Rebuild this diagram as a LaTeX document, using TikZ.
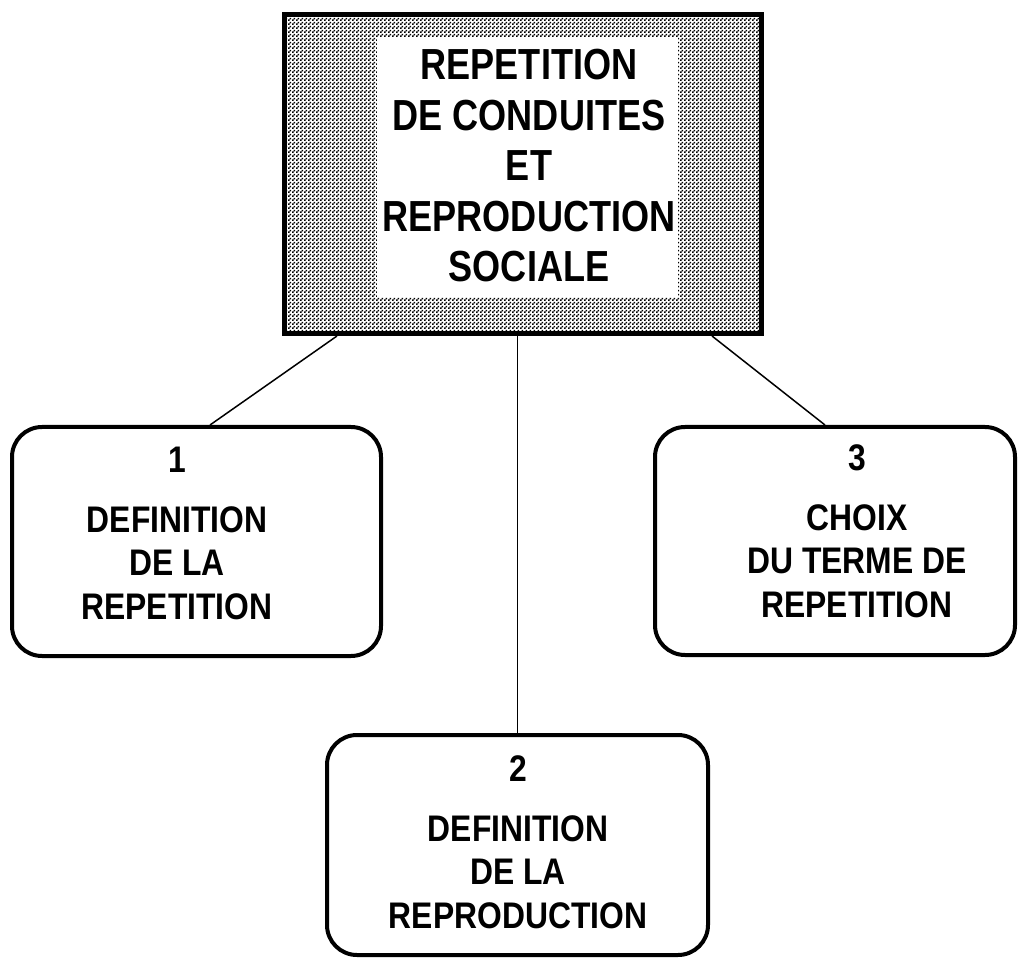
\documentclass[tikz,border=0pt]{standalone}
\usepackage{fontspec}
\newfontfamily\cfont{Liberation Sans}[FakeStretch=0.86]
\newfontfamily\tfont{Liberation Sans}[FakeStretch=0.83]
\usetikzlibrary{patterns}
\pgfdeclarepatternformonly{stipple}{\pgfqpoint{0pt}{0pt}}{\pgfqpoint{4pt}{4pt}}{\pgfqpoint{4pt}{4pt}}{%
  \pgfpathrectangle{\pgfqpoint{0pt}{0pt}}{\pgfqpoint{1.9pt}{1.9pt}}%
  \pgfpathrectangle{\pgfqpoint{2pt}{2pt}}{\pgfqpoint{1.9pt}{1.9pt}}%
  \pgfusepath{fill}}
\tikzset{
  topbox/.style={draw=black, line width=5pt, pattern=stipple, pattern color=black, inner sep=0pt},
  whitepane/.style={fill=white, draw=none, inner sep=0pt},
  subbox/.style={draw=black, line width=4pt, rounded corners=30pt, fill=white, inner sep=0pt},
  toptext/.style={font=\tfont\bfseries\fontsize{43.5}{50.5}\selectfont, align=center, inner sep=0pt},
  boxtext/.style={font=\cfont\bfseries\fontsize{37}{43.5}\selectfont, align=center, inner sep=0pt},
  link/.style={draw=black, line width=1.5pt}
}
\begin{document}
\begin{tikzpicture}[x=1pt,y=-1pt]
\useasboundingbox (0,0) rectangle (1023,965);
% top box
\node[topbox, minimum width=477pt, minimum height=319pt] (top) at (523,174) {};
\node[whitepane, minimum width=301pt, minimum height=260pt] (pane) at (527.5,167) {};
\node[toptext] (ttop) at (529,166) {REPETITION\\DE CONDUITES\\ET\\REPRODUCTION\\SOCIALE};
% sub boxes
\node[subbox, minimum width=369pt, minimum height=229pt] (b1) at (196.5,541.5) {};
\node[subbox, minimum width=381pt, minimum height=220pt] (b2) at (517.5,845) {};
\node[subbox, minimum width=360pt, minimum height=228pt] (b3) at (835,541) {};
\node[boxtext] (t1) at (177,533.5) {1\\[16pt]DEFINITION\\DE LA\\REPETITION};
\node[boxtext] (t2) at (518,842.5) {2\\[16pt]DEFINITION\\DE LA\\REPRODUCTION};
\node[boxtext] (t3) at (857,531.5) {3\\[16pt]CHOIX\\DU TERME DE\\REPETITION};
% connectors
\draw[link] ([xshift=55pt]top.south west) -- ([xshift=200pt]b1.north west);
\draw[link] (top.south -| b2.north) -- (b2.north);
\draw[link] ([xshift=-52pt]top.south east) -- ([xshift=172pt]b3.north west);
\end{tikzpicture}
\end{document}
